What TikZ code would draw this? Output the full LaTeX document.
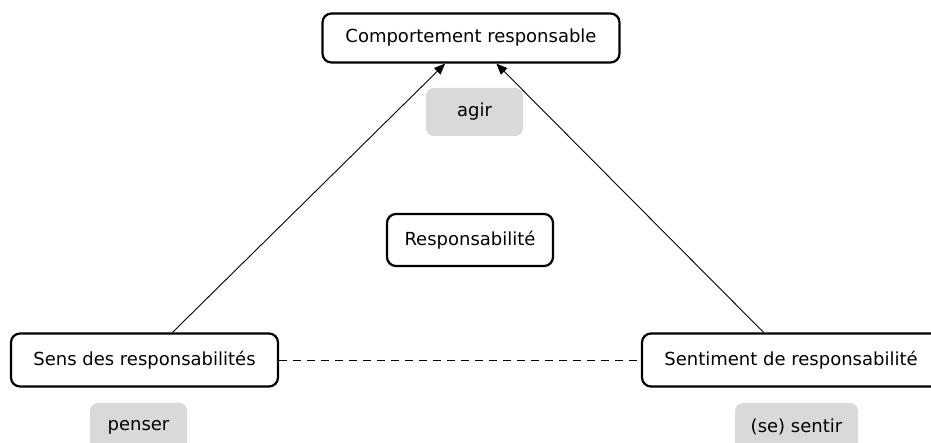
\documentclass[tikz,border=0pt]{standalone}
\usepackage{fontspec}
\setmainfont{DejaVu Sans}
\usetikzlibrary{positioning, arrows.meta}

\begin{document}
\begin{tikzpicture}[x=1pt, y=1pt, >={Triangle[length=11pt, width=9pt]},
    concept/.style={draw, line width=2.2pt, rounded corners=9pt, fill=white,
        inner sep=0pt, font=\fontsize{18}{21}\selectfont},
    verb/.style={fill=black!15, rounded corners=8pt, inner sep=0pt,
        minimum width=97pt, minimum height=48pt, font=\fontsize{18}{21}\selectfont}]

    % --- Frame of the page ---
    \path[use as bounding box] (0,0) rectangle (931,443);
    \clip (0,0) rectangle (931,443);

    % --- Corners of the triangle ---
    \node[concept, minimum width=297pt, minimum height=49pt] (comp) at (471,405) {Comportement responsable};
    \node[concept, minimum width=267pt, minimum height=53pt] (sens) at (144.5,83) {Sens des responsabilit\'es};
    \node[concept, minimum width=298pt, minimum height=53pt] (senti) at (791,83) {Sentiment de responsabilit\'e};

    % --- Centre ---
    \node[concept, minimum width=166pt, minimum height=52pt] (resp) at (470,203) {Responsabilit\'e};

    % --- Grey verbs ---
    \node[verb] (agir) at (474.5,331) {agir};
    \node[verb] (penser) at (138.5,16) {penser};
    \node[verb, minimum width=123pt] (sentir) at (796.5,16) {(se) sentir};

    % --- Connectors ---
    \draw[->, line width=0.9pt] (sens) -- (comp);
    \draw[->, line width=0.9pt] (senti) -- (comp);
    \draw[line width=0.9pt, dash pattern=on 8pt off 6pt] (sens) -- (senti);

\end{tikzpicture}
\end{document}
